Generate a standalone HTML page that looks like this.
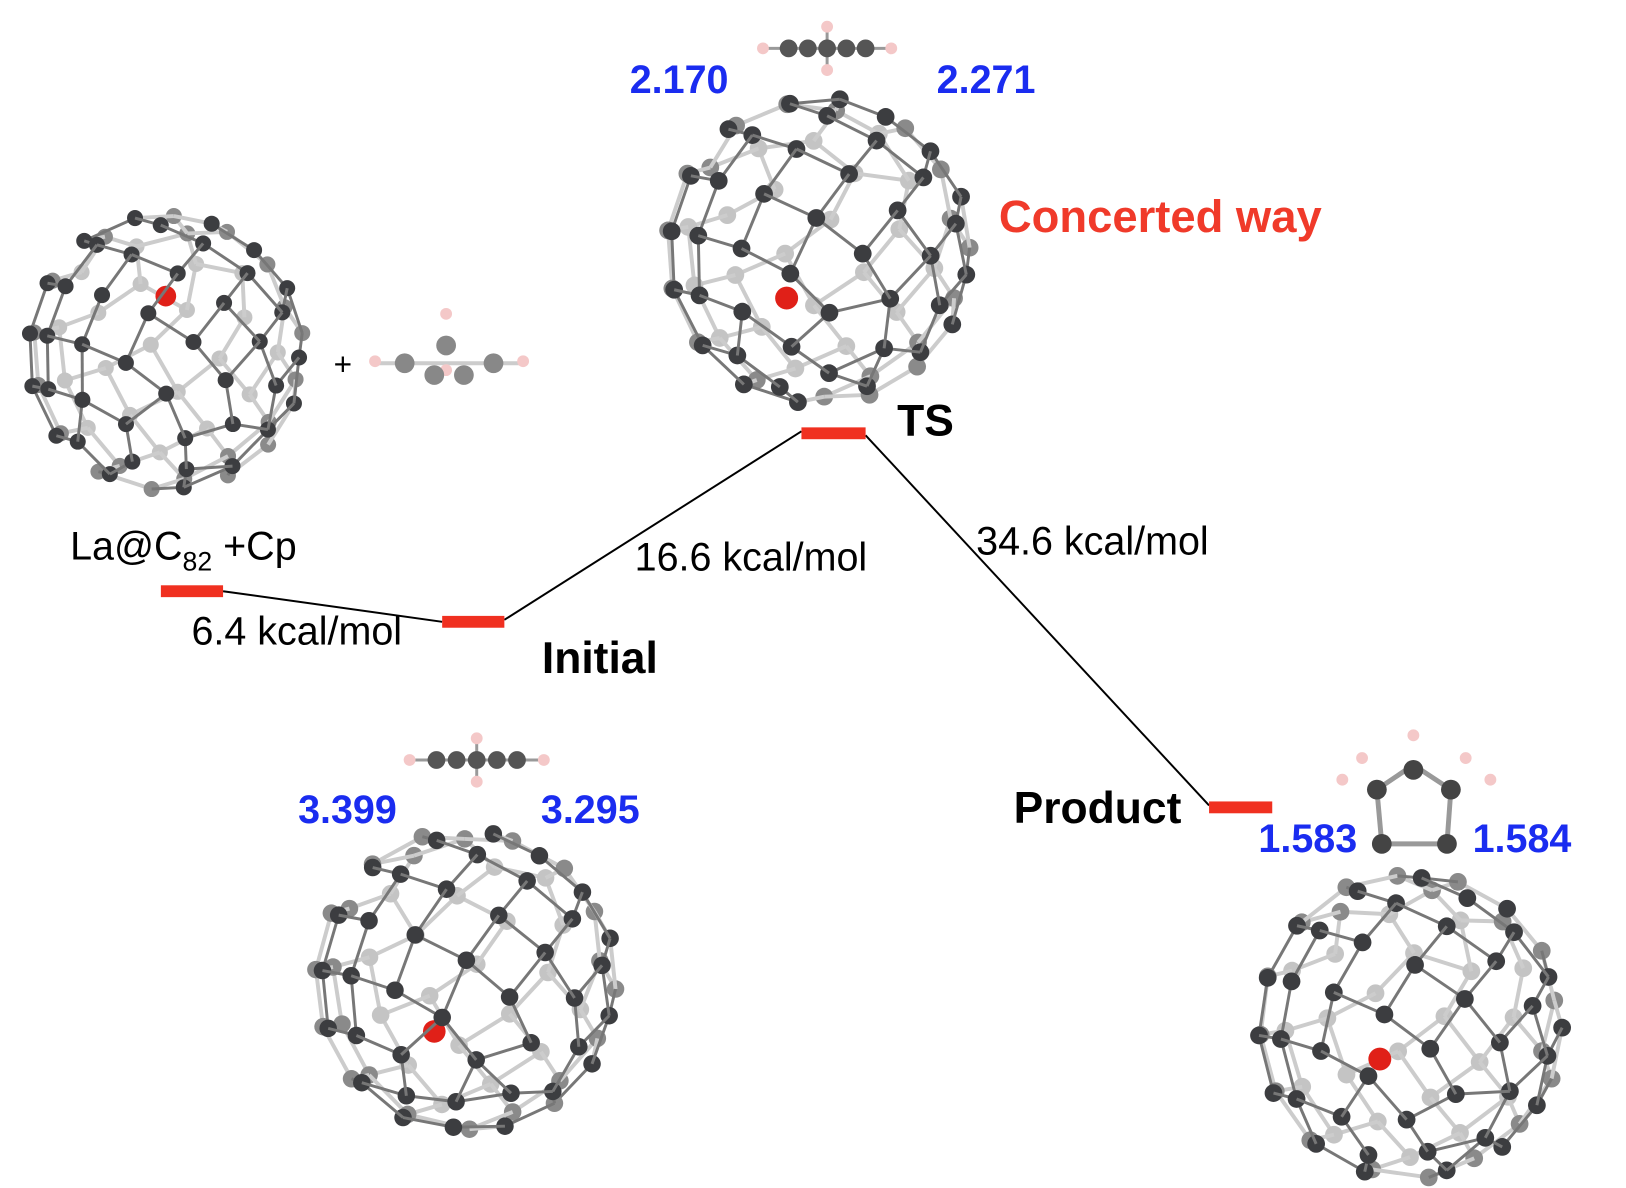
<!DOCTYPE html>
<html><head><meta charset="utf-8">
<style>
html,body{margin:0;padding:0;background:#fff;}
#c{position:relative;width:1626px;height:1188px;overflow:hidden;font-family:"Liberation Sans",Arial,sans-serif;}
svg{position:absolute;left:0;top:0;}
</style></head><body>
<div id="c">
<svg id="s" width="1626" height="1188" viewBox="0 0 1626 1188">
<g transform="scale(0.987)">
<g id="mol"></g>
<g stroke="#000" stroke-width="2" fill="none">
<line x1="226" y1="599" x2="448" y2="630"/>
<line x1="511" y1="628" x2="812" y2="437"/>
<line x1="877" y1="441" x2="1225" y2="816"/>
</g>
<g fill="#f03020">
<rect x="163" y="593" width="63" height="12"/>
<rect x="448" y="624" width="63" height="12"/>
<rect x="812" y="433" width="65" height="12"/>
<rect x="1225" y="812" width="64" height="12"/>
</g>
<g font-size="40" fill="#000">
<text x="71" y="567">La@C<tspan font-size="27" dy="11">82</tspan><tspan dy="-11"> +Cp</tspan></text>
<text x="194" y="653">6.4 kcal/mol</text>
<text x="643" y="578">16.6 kcal/mol</text>
<text x="989" y="562">34.6 kcal/mol</text>
<text x="338" y="380" font-size="32">+</text>
</g>
<g font-size="45" font-weight="bold" fill="#000">
<text x="549" y="682">Initial</text>
<text x="909" y="441">TS</text>
<text x="1027" y="834">Product</text>
</g>
<text x="1012" y="235" font-size="46" font-weight="bold" fill="#f03a2a">Concerted way</text>
<g font-size="40" font-weight="bold" fill="#1a2cf0">
<text x="638" y="94">2.170</text>
<text x="949" y="94">2.271</text>
<text x="302" y="834">3.399</text>
<text x="548" y="834">3.295</text>
<text x="1275" y="863">1.583</text>
<text x="1492" y="863">1.584</text>
</g>
</g>
</svg>
</div>
<script>
var NS="http://www.w3.org/2000/svg",g=document.getElementById("mol");
function el(t,a){var e=document.createElementNS(NS,t);for(var k in a)e.setAttribute(k,a[k]);g.appendChild(e);return e;}
function ful(cx,cy,R,lx,ly,rot){
 var N=82,P=[];
 for(var i=0;i<N;i++){var y=1-2*(i+0.5)/N,r=Math.sqrt(1-y*y),th=i*2.39996+rot;
  var x=r*Math.cos(th),z=r*Math.sin(th);
  var a=0.5,y2=y*Math.cos(a)-z*Math.sin(a),z2=y*Math.sin(a)+z*Math.cos(a);
  P.push([x,y2,z2]);}
 var E=[];
 for(var i=0;i<N;i++){var d=[];for(var j=0;j<N;j++)if(j!=i){var dx=P[i][0]-P[j][0],dy=P[i][1]-P[j][1],dz=P[i][2]-P[j][2];d.push([dx*dx+dy*dy+dz*dz,j]);}
  d.sort(function(a,b){return a[0]-b[0]});for(var k=0;k<3;k++)if(d[k][1]>i)E.push([i,d[k][1]]);}
 var items=[];
 E.forEach(function(e){var a=P[e[0]],b=P[e[1]];items.push({z:(a[2]+b[2])/2-0.05,f:function(){var f=(a[2]+b[2])/2>0;
  el("line",{x1:cx+a[0]*R,y1:cy+a[1]*R,x2:cx+b[0]*R,y2:cy+b[1]*R,stroke:f?"#777":"#ccc","stroke-width":f?3:4});}});});
 P.forEach(function(p){items.push({z:p[2],f:function(){var f=p[2]>0;
  el("circle",{cx:cx+p[0]*R,cy:cy+p[1]*R,r:R*0.058,fill:f?"#3c3d40":(p[2]>-0.5?"#8a8a8a":"#c4c4c4")});}});});
 items.push({z:-0.2,f:function(){el("circle",{cx:lx,cy:ly,r:R*0.075,fill:"#e02018"});}});
 items.sort(function(a,b){return a.z-b.z});items.forEach(function(it){it.f();});
}
function cp(cx,cy,w){
 el("line",{x1:cx-w,y1:cy,x2:cx+w,y2:cy,stroke:"#999","stroke-width":3});
 el("line",{x1:cx,y1:cy-22,x2:cx,y2:cy+22,stroke:"#999","stroke-width":3});
 [[-w,0],[w,0],[0,-22],[0,22]].forEach(function(q){el("circle",{cx:cx+q[0],cy:cy+q[1],r:6,fill:"#f4c8c8"});});
 [-w*0.6,-w*0.3,w*0.3,w*0.6,0].forEach(function(q){el("circle",{cx:cx+q,cy:cy,r:9,fill:"#555"});});
}
ful(168,357,140,168,300,0.3);
ful(829,254,155,797,302,1.1);
ful(472,994,153,440,1045,2.0);
ful(1428,1040,155,1398,1073,0.7);
cp(838,49,65);
cp(483,770,68);
el("line",{x1:380,y1:368,x2:530,y2:368,stroke:"#ccc","stroke-width":4});
[[380,366],[530,366],[452,318],[452,375]].forEach(function(q){el("circle",{cx:q[0],cy:q[1],r:6,fill:"#f4c8c8"});});
[[410,368],[440,380],[470,380],[500,368],[452,350]].forEach(function(q){el("circle",{cx:q[0],cy:q[1],r:10,fill:"#888"});});
el("polyline",{points:"1400,855 1395,800 1432,775 1470,800 1466,855",fill:"none",stroke:"#999","stroke-width":5});
el("line",{x1:1400,y1:855,x2:1466,y2:855,stroke:"#999","stroke-width":5});
[[1400,855],[1466,855],[1395,800],[1470,800],[1432,780]].forEach(function(q){el("circle",{cx:q[0],cy:q[1],r:10,fill:"#444"});});
[[1360,790],[1510,790],[1432,745],[1380,768],[1485,768]].forEach(function(q){el("circle",{cx:q[0],cy:q[1],r:6,fill:"#f4c8c8"});});
</script>
</body></html>
